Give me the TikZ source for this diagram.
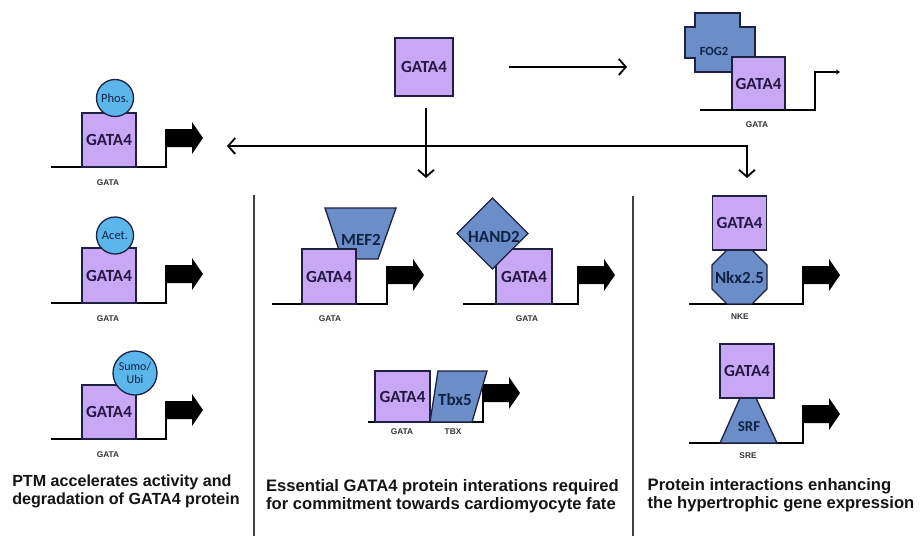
\documentclass[tikz,border=0pt]{standalone}
\usepackage{fontspec}
\setmainfont{Liberation Sans}
\newfontfamily\carl{Carlito}
\usetikzlibrary{arrows.meta,shapes.geometric}
\definecolor{gpurple}{HTML}{C8A8F5}
\definecolor{pblue}{HTML}{6B8EC8}
\definecolor{cblue}{HTML}{5BB6EC}
\definecolor{outl}{HTML}{1E2142}
\definecolor{gtext}{HTML}{251845}
\definecolor{btext}{HTML}{102244}
\tikzset{
  barb/.tip={Straight Barb[length=7pt,width=16pt,line width=1.8pt]},
  gbox/.style={draw=outl, fill=gpurple, line width=1.3pt, minimum width=54pt, minimum height=54pt, inner sep=0pt, font=\carl\bfseries\fontsize{17}{17}\selectfont, text=gtext},
  pshape/.style={draw=outl, fill=pblue, line width=1.3pt},
  ptext/.style={font=\carl\bfseries\fontsize{17}{17}\selectfont, text=btext, inner sep=0pt},
  modc/.style={circle, draw=outl, fill=cblue, line width=1.3pt, inner sep=0pt, font=\carl\fontsize{12.5}{12.5}\selectfont, text=btext, align=center},
  dna/.style={draw=black, line width=1.6pt},
  site/.style={font=\bfseries\fontsize{8.3}{9}\selectfont, text=black!80, inner sep=0pt},
  ttl/.style={font=\bfseries\fontsize{16.6}{17.8}\selectfont, text=black!92, align=left, inner sep=0pt},
  conn/.style={draw=black, line width=1.6pt, arrows={-barb}},
  divider/.style={draw=black!75, line width=1.4pt},
  promoter/.pic={
    \fill[black] (-0.8,-20) -- (-0.8,-38) -- (26,-38) -- (26,-45) -- (37,-29) -- (26,-13) -- (26,-20) -- cycle;
  }
}
\begin{document}
\begin{tikzpicture}[x=1pt,y=-1pt]
\useasboundingbox[fill=white] (0,0) rectangle (920,536);

% dividers
\draw[divider] (254,195) -- (254,536);
\draw[divider] (633,196) -- (633,536);

% ---------- top GATA4 and connectors ----------
\node[gbox, minimum width=58pt, minimum height=58pt] (top) at (424,67) {GATA4};
\coordinate (topR1) at (509,67);
\coordinate (topR2) at (627,67);
\draw[conn] (topR1) -- (topR2);
\coordinate (vstart) at (426,108);
\coordinate (vend) at (426,178);
\draw[conn] (vstart) -- (vend);
\coordinate (hleft) at (227,146);
\coordinate (hcorner) at (747,146);
\coordinate (hdown) at (747,178);
\draw[conn, arrows={barb-barb}] (hleft) -- (hcorner) -- (hdown);

% ---------- FOG2 ----------
\draw[pshape] (695,13) -- (740,13) -- (740,27) -- (755,27) -- (755,58) -- (740,58) -- (740,72) -- (695,72) -- (695,58) -- (685,58) -- (685,27) -- (695,27) -- cycle;
\node[ptext, font=\carl\bfseries\fontsize{12.5}{12.5}\selectfont] (fog2) at (714,51) {FOG2};
\node[gbox, minimum width=53pt, minimum height=53pt] (gfog) at (758.5,83.5) {GATA4};
\draw[dna] (700,110) -- (815,110) -- (815,72);
\draw[line width=2pt, -{Stealth[length=4pt,width=5pt]}] (814,72) -- (840,72);
\node[site] (sfog) at (757,125) {GATA};

% ---------- left column ----------
% Phos
\draw[dna] (51,167) -- (166,167) -- (166,147);
\pic at (166,167) {promoter};
\node[gbox] (g1) at (109,140) {GATA4};
\node[modc, minimum size=37pt] (phos) at (115,98) {Phos.};
\node[site] (s1) at (108,183) {GATA};
% Acet
\draw[dna] (51,303) -- (166,303) -- (166,283);
\pic at (166,303) {promoter};
\node[gbox, minimum height=55pt] (g2) at (109,275.5) {GATA4};
\node[modc, minimum size=37pt] (acet) at (115,235.5) {Acet.};
\node[site] (s2) at (108,319) {GATA};
% Sumo
\draw[dna] (51,439) -- (166,439) -- (166,419);
\pic at (166,439) {promoter};
\node[gbox] (g3) at (109,412) {GATA4};
\node[modc, minimum size=44pt, font=\carl\fontsize{12}{12.5}\selectfont] (sumo) at (135,373) {Sumo/\\Ubi};
\node[site] (s3) at (108,455) {GATA};
\node[ttl, font=\bfseries\fontsize{16.1}{17.5}\selectfont] (t1) at (126,491.5) {PTM accelerates activity and\\degradation of GATA4 protein};

% ---------- middle column ----------
% MEF2
\draw[dna] (272,304) -- (387,304) -- (387,284);
\pic at (387,304) {promoter};
\draw[pshape] (325,208) -- (396,208) -- (378,259) -- (342,259) -- cycle;
\node[ptext] (mef2) at (361,240) {MEF2};
\node[gbox, minimum height=55pt] (g4) at (329,276.5) {GATA4};
\node[site] (s4) at (330,319) {GATA};
% HAND2
\draw[dna] (463,304) -- (578,304) -- (578,284);
\pic at (578,304) {promoter};
\node[gbox, minimum width=56pt, minimum height=55pt] (g5) at (524,276.5) {GATA4};
\draw[pshape] (457,233.5) -- (492.5,198) -- (528,233.5) -- (492.5,269) -- cycle;
\node[ptext] (hand2) at (494,236.5) {HAND2};
\node[site] (s5) at (527,319) {GATA};
% Tbx5
\draw[dna] (368,422) -- (483,422) -- (483,402);
\pic at (483,422) {promoter};
\node[gbox, minimum width=55pt, minimum height=51pt] (g6) at (402.5,396.5) {GATA4};
\draw[pshape] (438,371) -- (487,371) -- (472,422) -- (430,422) -- cycle;
\node[ptext] (tbx5) at (455,400) {Tbx5};
\node[site] (s6) at (402,432) {GATA};
\node[site] (s7) at (453,432) {TBX};
\node[ttl] (t2) at (442.5,496) {Essential GATA4 protein interations required\\for commitment towards cardiomyocyte fate};

% ---------- right column ----------
% Nkx2.5
\draw[dna] (689,304) -- (803,304) -- (803,284);
\pic at (803,304) {promoter};
\draw[pshape] (727,250) -- (752,250) -- (767,265) -- (767,289) -- (752,304) -- (727,304) -- (712,289) -- (712,265) -- cycle;
\node[ptext] (nkx) at (739.5,278) {Nkx2.5};
\node[gbox] (g7) at (739.5,223) {GATA4};
\node[site] (s8) at (740,317) {NKE};
% SRF
\draw[dna] (689,443) -- (803,443) -- (803,423);
\pic at (803,443) {promoter};
\draw[pshape] (740,398) -- (756,398) -- (777,443) -- (720,443) -- cycle;
\node[ptext, font=\carl\bfseries\fontsize{15}{15}\selectfont] (srf) at (749,427) {SRF};
\node[gbox] (g8) at (747,371) {GATA4};
\node[site] (s9) at (748,456) {SRE};
\node[ttl] (t3) at (781,495.5) {Protein interactions enhancing\\the hypertrophic gene expression};
\end{tikzpicture}
\end{document}
